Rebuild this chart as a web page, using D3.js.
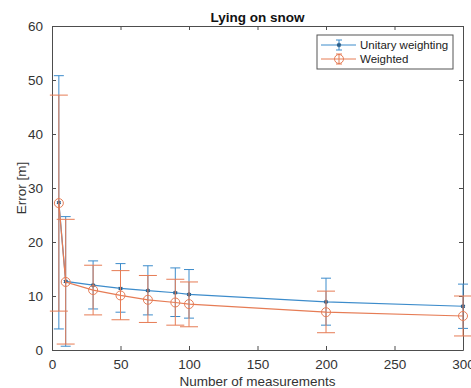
<!DOCTYPE html>
<html>
<head>
<meta charset="utf-8">
<script src="https://cdn.jsdelivr.net/npm/d3@7"></script>
<style>
  body { margin: 0; background: #fff; }
  text { font-family: Arial, "Liberation Sans", sans-serif; }
</style>
</head>
<body>
<div id="chart"></div>
<script>
// Messungen (x) und Fehler je Reihe: Mittelwert, obere / untere Fehlergrenze
const measurements = [5, 10, 30, 50, 70, 90, 100, 200, 300];
const unitaryMean  = [27.3, 12.7, 12.0, 11.4, 11.0, 10.6, 10.3, 8.9, 8.1];
const unitaryHigh  = [50.8, 24.7, 16.5, 16.0, 15.6, 15.2, 14.9, 13.3, 12.2];
const unitaryLow   = [3.9, 0.7, 7.6, 7.0, 6.5, 6.2, 5.9, 4.6, 4.0];
const weightedMean = [27.2, 12.6, 11.1, 10.1, 9.3, 8.8, 8.5, 7.0, 6.3];
const weightedHigh = [47.2, 24.2, 15.7, 14.7, 13.8, 13.1, 12.6, 10.9, 10.0];
const weightedLow  = [7.2, 1.1, 6.5, 5.6, 5.1, 4.6, 4.3, 3.2, 2.6];
const xTicks = [0, 50, 100, 150, 200, 250, 300];
const yTicks = [0, 10, 20, 30, 40, 50, 60];
const seriesNames = ["Unitary weighting", "Weighted"];

const W = 471, H = 388;
const M = { top: 26, right: 8, bottom: 38, left: 52 };

const svg = d3.select("#chart").append("svg")
  .attr("width", W)
  .attr("height", H);

const x = d3.scaleLinear().domain([0, 300]).range([M.left, W - M.right]);
const y = d3.scaleLinear().domain([0, 60]).range([H - M.bottom, M.top]);

const cAxis = "#4d4d4d";
const cBlue = "#3d8ccb";
const cOrange = "#e67c55";

// Achsen
const gx = svg.append("g")
  .attr("transform", `translate(0,${H - M.bottom})`)
  .call(d3.axisBottom(x).tickValues(xTicks).tickSizeInner(-4).tickSizeOuter(0).tickPadding(9));
const gxTop = svg.append("g")
  .attr("transform", `translate(0,${M.top})`)
  .call(d3.axisTop(x).tickValues(xTicks).tickSizeInner(-4).tickSizeOuter(0).tickFormat(""));
const gy = svg.append("g")
  .attr("transform", `translate(${M.left},0)`)
  .call(d3.axisLeft(y).tickValues(yTicks).tickSizeInner(-4).tickSizeOuter(0).tickPadding(9));
const gyRight = svg.append("g")
  .attr("transform", `translate(${W - M.right},0)`)
  .call(d3.axisRight(y).tickValues(yTicks).tickSizeInner(-4).tickSizeOuter(0).tickFormat(""));

[gx, gxTop, gy, gyRight].forEach(g => {
  g.select(".domain").attr("stroke", cAxis).attr("stroke-width", 1);
  g.selectAll(".tick line").attr("stroke", cAxis);
  g.selectAll(".tick text")
    .style("font-size", "13.5px")
    .style("fill", "#333");
});
gx.selectAll(".tick text").attr("dy", "0.71em");

// Titel und Achsenbeschriftungen
svg.append("text")
  .attr("x", (M.left + W - M.right) / 2)
  .attr("y", 22)
  .attr("text-anchor", "middle")
  .style("font-size", "13.5px")
  .style("font-weight", "700")
  .style("fill", "#111")
  .text("Lying on snow");

svg.append("text")
  .attr("x", (M.left + W - M.right) / 2)
  .attr("y", 386)
  .attr("text-anchor", "middle")
  .style("font-size", "13.5px")
  .style("fill", "#333")
  .text("Number of measurements");

svg.append("text")
  .attr("transform", `translate(26,${(M.top + H - M.bottom) / 2}) rotate(-90)`)
  .attr("text-anchor", "middle")
  .style("font-size", "13.5px")
  .style("fill", "#333")
  .text("Error [m]");

// Reihen
const series = [
  { name: seriesNames[0], mean: unitaryMean, hi: unitaryHigh, lo: unitaryLow, color: cBlue, cap: 5, marker: "star" },
  { name: seriesNames[1], mean: weightedMean, hi: weightedHigh, lo: weightedLow, color: cOrange, cap: 9, marker: "circle" }
];

const line = d3.line().x(d => x(d.x)).y(d => y(d.v));

series.forEach(s => {
  const pts = measurements.map((m, i) => ({ x: m, v: s.mean[i], hi: s.hi[i], lo: s.lo[i] }));
  const g = svg.append("g");

  // Fehlerbalken
  pts.forEach(p => {
    g.append("line")
      .attr("x1", x(p.x)).attr("x2", x(p.x))
      .attr("y1", y(p.lo)).attr("y2", y(p.hi))
      .attr("stroke", s.color).attr("stroke-width", 1);
    [p.lo, p.hi].forEach(v => {
      g.append("line")
        .attr("x1", x(p.x) - s.cap).attr("x2", x(p.x) + s.cap)
        .attr("y1", y(v)).attr("y2", y(v))
        .attr("stroke", s.color).attr("stroke-width", 1);
    });
  });

  g.append("path")
    .datum(pts)
    .attr("fill", "none")
    .attr("stroke", s.color)
    .attr("stroke-width", 1.2)
    .attr("d", line);

  pts.forEach(p => drawMarker(g, s, x(p.x), y(p.v)));
});

function drawMarker(g, s, cx, cy) {
  if (s.marker === "circle") {
    g.append("circle")
      .attr("cx", cx).attr("cy", cy).attr("r", 4.5)
      .attr("fill", "none").attr("stroke", s.color).attr("stroke-width", 1);
  } else {
    g.append("path")
      .attr("d", d3.symbol(d3.symbolAsterisk, 14)())
      .attr("transform", `translate(${cx},${cy})`)
      .attr("stroke", "#2b5f8a").attr("stroke-width", 1.2).attr("fill", "none");
    g.append("circle")
      .attr("cx", cx).attr("cy", cy).attr("r", 1.6)
      .attr("fill", "#2b5f8a");
  }
}

// Legende
const lg = svg.append("g").attr("transform", "translate(317,35)");
lg.append("rect")
  .attr("width", 136).attr("height", 34)
  .attr("fill", "#fff").attr("stroke", "#555").attr("stroke-width", 1);

series.forEach((s, i) => {
  const ly = 10 + i * 14;
  lg.append("line")
    .attr("x1", 4).attr("x2", 39).attr("y1", ly).attr("y2", ly)
    .attr("stroke", s.color).attr("stroke-width", 1);
  lg.append("line")
    .attr("x1", 22).attr("x2", 22).attr("y1", ly - 5).attr("y2", ly + 5)
    .attr("stroke", s.color);
  [ly - 5, ly + 5].forEach(v => {
    lg.append("line")
      .attr("x1", 19).attr("x2", 25).attr("y1", v).attr("y2", v)
      .attr("stroke", s.color);
  });
  drawMarker(lg, s, 22, ly);
  lg.append("text")
    .attr("x", 43).attr("y", ly + 4)
    .style("font-size", "11.5px")
    .style("fill", "#222")
    .text(s.name);
});
</script>
</body>
</html>
